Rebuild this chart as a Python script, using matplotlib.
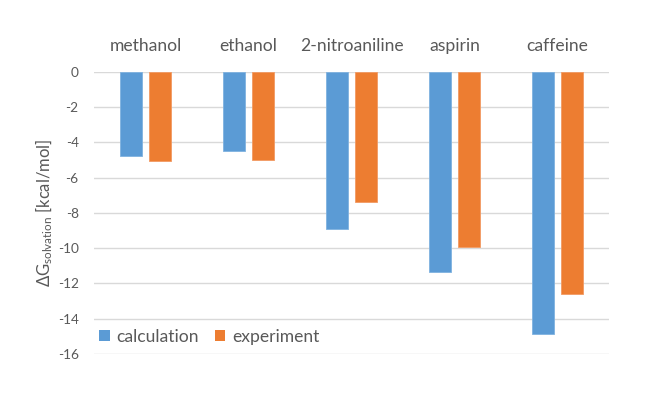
import matplotlib
matplotlib.use("Agg")
import matplotlib.pyplot as plt
import numpy as np
from matplotlib.patches import Patch

categories = ["methanol", "ethanol", "2-nitroaniline", "aspirin", "caffeine"]
calculation = [-4.75, -4.49, -8.92, -11.36, -14.89]
experiment = [-5.08, -5.02, -7.37, -9.94, -12.61]
y_ticks = [0, -2, -4, -6, -8, -10, -12, -14, -16]

plt.rcParams['font.family'] = ['Lato', 'DejaVu Sans']
plt.rcParams['mathtext.default'] = 'regular'

TXT = '#595959'
BLUE = '#5B9BD5'
ORANGE = '#ED7D31'
GRID = '#D9D9D9'

fig = plt.figure(figsize=(6.6, 4.0), dpi=100)
ax = fig.add_axes([94/660, 1-354/400, (609-94)/660, (354-71.7)/400])

x = np.arange(len(categories))
w = 0.218
off = 0.142
ax.bar(x - off, calculation, width=w, color=BLUE, edgecolor='#7FB2E0', linewidth=0.6, zorder=3, label='calculation')
ax.bar(x + off, experiment, width=w, color=ORANGE, edgecolor='#F29A63', linewidth=0.6, zorder=3, label='experiment')

ax.set_xlim(-0.5, len(categories) - 0.5)
ax.set_ylim(-16, 0)
ax.set_yticks(y_ticks)
ax.set_yticklabels([str(t) for t in y_ticks])
ax.yaxis.grid(True, color=GRID, linewidth=1.0, zorder=0)
ax.set_axisbelow(True)
for s in ax.spines.values():
    s.set_visible(False)
ax.tick_params(axis='y', length=0, pad=11, labelsize=9.8, labelcolor=TXT)
ax.xaxis.tick_top()
ax.set_xticks(x)
ax.set_xticklabels(categories)
ax.tick_params(axis='x', length=0, pad=13, labelsize=12.6, labelcolor=TXT)

ax.set_ylabel(r'ΔG$_{solvation}$ [kcal/mol]', fontsize=12, color=TXT, labelpad=2)

handles = [Patch(facecolor=BLUE, edgecolor='none', label='calculation'),
           Patch(facecolor=ORANGE, edgecolor='none', label='experiment')]
leg = fig.legend(handles=handles, loc='center left', bbox_to_anchor=(99/660, 1-336.7/400),
                 ncol=2, frameon=False, fontsize=12.6, handlelength=0.6, handleheight=0.6,
                 handletextpad=0.4, columnspacing=0.9, borderaxespad=0, borderpad=0)
for t in leg.get_texts():
    t.set_color(TXT)

fig.savefig('out.png', dpi=100)
